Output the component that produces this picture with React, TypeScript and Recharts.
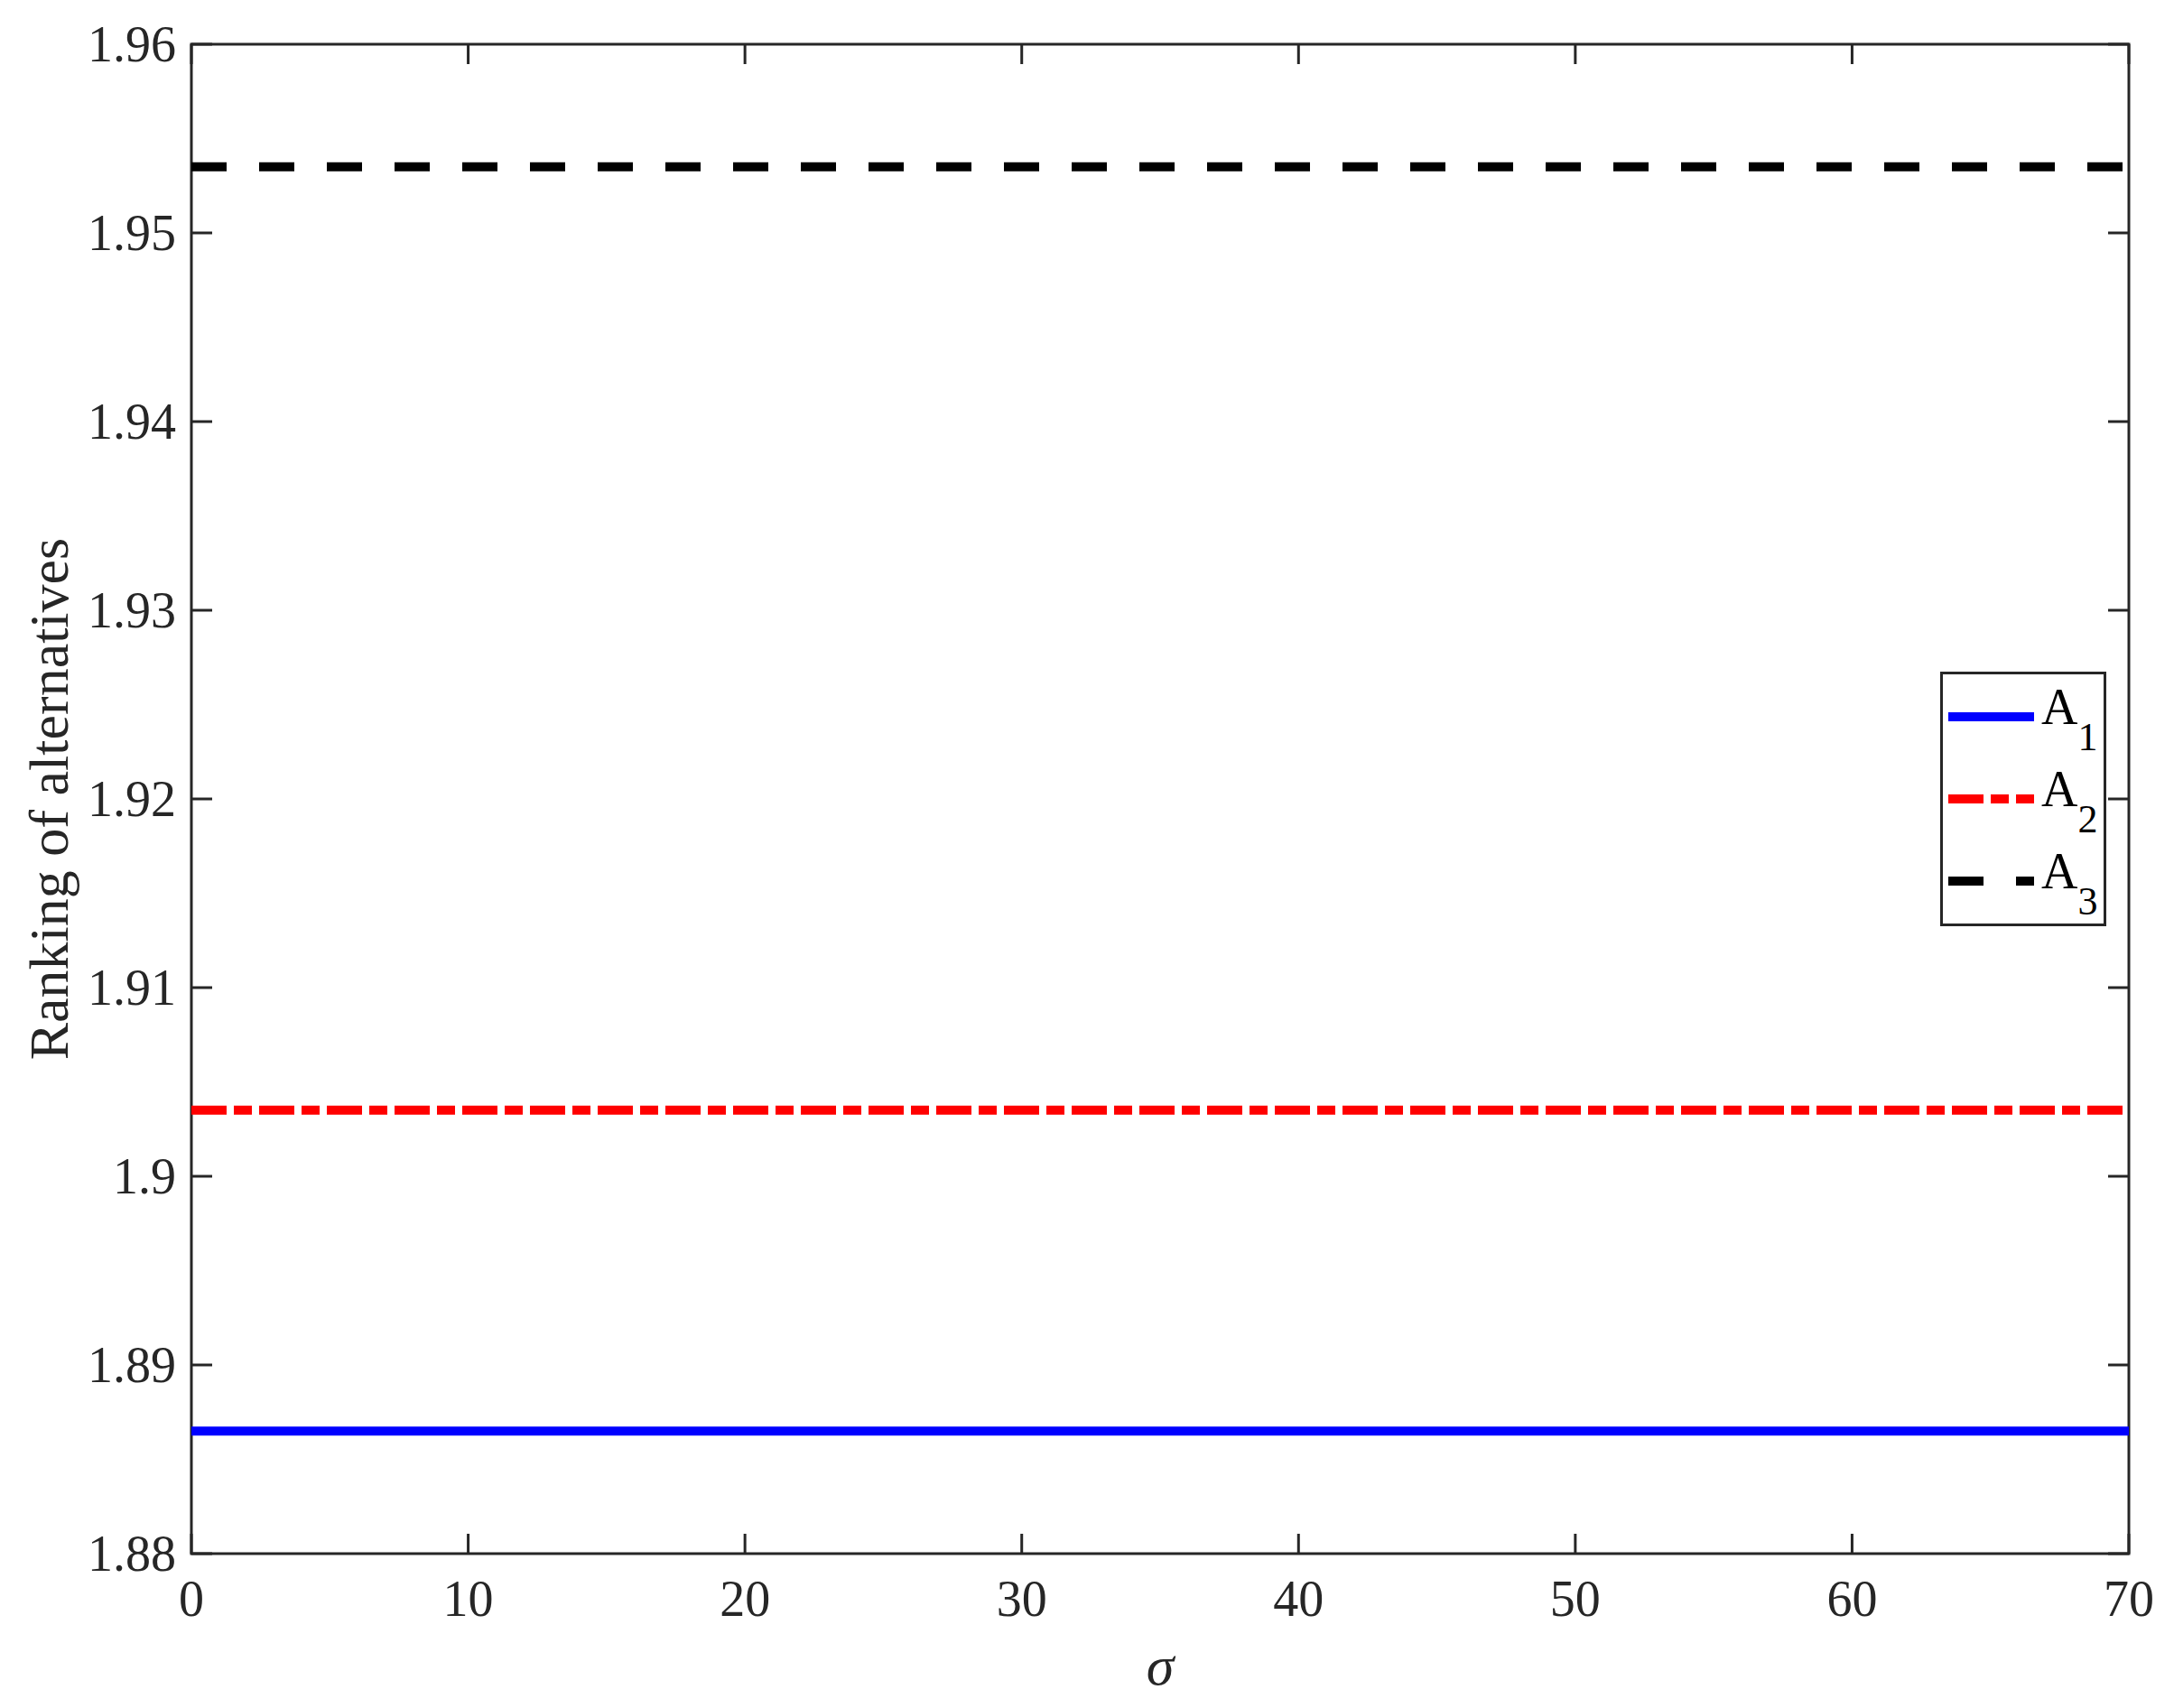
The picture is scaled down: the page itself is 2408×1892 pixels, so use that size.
import React from "react";
import { LineChart, Line, XAxis, YAxis, ReferenceArea } from "recharts";

const sigma = [0, 10, 20, 30, 40, 50, 60, 70];
const rankA1 = [1.8865, 1.8865, 1.8865, 1.8865, 1.8865, 1.8865, 1.8865, 1.8865];
const rankA2 = [1.9035, 1.9035, 1.9035, 1.9035, 1.9035, 1.9035, 1.9035, 1.9035];
const rankA3 = [1.9535, 1.9535, 1.9535, 1.9535, 1.9535, 1.9535, 1.9535, 1.9535];

const xTicks = [0, 10, 20, 30, 40, 50, 60, 70];
const yTicks = [1.88, 1.89, 1.9, 1.91, 1.92, 1.93, 1.94, 1.95, 1.96];

const seriesNames = ["A1", "A2", "A3"];

const W = 2408;
const H = 1892;
const PLOT_W = 2146;
const PLOT_H = 1672;
const AXIS = "#262626";
const FONT = "'Liberation Serif', 'Times New Roman', serif";

const styles = [
  { color: "#0000ff", dash: undefined as string | undefined },
  { color: "#ff0000", dash: "39 8 20 8" },
  { color: "#000000", dash: "39 36" },
];

const chartData = sigma.map((s, i) => ({
  sigma: s,
  A1: rankA1[i],
  A2: rankA2[i],
  A3: rankA3[i],
}));

const XTick = ({ x, y, payload }: any) => (
  <g>
    <line x1={x} x2={x} y1={y} y2={y - 22} stroke={AXIS} strokeWidth={3} />
    <line x1={x} x2={x} y1={y - PLOT_H} y2={y - PLOT_H + 22} stroke={AXIS} strokeWidth={3} />
    <text x={x} y={y + 69} textAnchor="middle" fill={AXIS} fontSize={56} fontFamily={FONT}>
      {payload.value}
    </text>
  </g>
);

const YTick = ({ x, y, payload }: any) => (
  <g>
    <line x1={x} x2={x + 23} y1={y} y2={y} stroke={AXIS} strokeWidth={3} />
    <line x1={x + PLOT_W - 23} x2={x + PLOT_W} y1={y} y2={y} stroke={AXIS} strokeWidth={3} />
    <text x={x - 17} y={y + 19} textAnchor="end" fill={AXIS} fontSize={56} fontFamily={FONT}>
      {String(payload.value)}
    </text>
  </g>
);

// legend box, MATLAB style, sits over the plot at the right
const LegendBox = () => (
  <svg width={184} height={282} style={{ display: "block" }}>
    <rect x={1.5} y={1.5} width={181} height={279} fill="#fff" stroke={AXIS} strokeWidth={3} />
    {seriesNames.map((name, i) => {
      const cy = 50 + i * 91;
      return (
        <g key={name}>
          <line
            x1={9}
            x2={104}
            y1={cy}
            y2={cy}
            stroke={styles[i].color}
            strokeWidth={10}
            strokeDasharray={styles[i].dash}
          />
          <text x={112} y={cy + 8} fontSize={56} fontFamily={FONT} fill="#000">
            {name[0]}
            <tspan fontSize={44} dy={29}>
              {name.slice(1)}
            </tspan>
          </text>
        </g>
      );
    })}
  </svg>
);

export default function App() {
  return (
    <div style={{ position: "absolute", left: 0, top: 0, width: W, height: H, background: "#fff" }}>
      <LineChart width={W} height={H} data={chartData} margin={{ top: 49, right: 50, left: 0, bottom: 0 }}>
        <XAxis
          dataKey="sigma"
          type="number"
          domain={[0, 70]}
          ticks={xTicks}
          height={171}
          tickSize={0}
          tickMargin={0}
          tickLine={false}
          axisLine={false}
          tick={<XTick />}
          interval={0}
          label={{
            content: ({ viewBox }: any) => (
              <text
                x={viewBox.x + viewBox.width / 2}
                y={viewBox.y + 145}
                textAnchor="middle"
                fontSize={62}
                fontStyle="italic"
                fontFamily={FONT}
                fill={AXIS}
              >
                σ
              </text>
            ),
          }}
        />
        <YAxis
          type="number"
          domain={[1.88, 1.96]}
          ticks={yTicks}
          width={212}
          tickSize={0}
          tickMargin={0}
          tickLine={false}
          axisLine={false}
          allowDataOverflow
          interval={0}
          tick={<YTick />}
          label={{
            content: ({ viewBox }: any) => {
              const cx = viewBox.x + 75;
              const cy = viewBox.y + viewBox.height / 2;
              return (
                <text
                  x={cx}
                  y={cy}
                  transform={`rotate(-90 ${cx} ${cy})`}
                  textAnchor="middle"
                  fontSize={62}
                  fontFamily={FONT}
                  fill={AXIS}
                >
                  Ranking of alternatives
                </text>
              );
            },
          }}
        />
        {seriesNames.map((name, i) => (
          <Line
            key={name}
            dataKey={name}
            type="linear"
            stroke={styles[i].color}
            strokeWidth={10}
            strokeDasharray={styles[i].dash}
            dot={false}
            activeDot={false}
            isAnimationActive={false}
          />
        ))}
        <ReferenceArea
          x1={0}
          x2={70}
          y1={1.88}
          y2={1.96}
          fill="none"
          fillOpacity={0}
          stroke={AXIS}
          strokeWidth={3}
          ifOverflow="visible"
        />
      </LineChart>
      <div style={{ position: "absolute", left: 2149, top: 744 }}>
        <LegendBox />
      </div>
    </div>
  );
}
